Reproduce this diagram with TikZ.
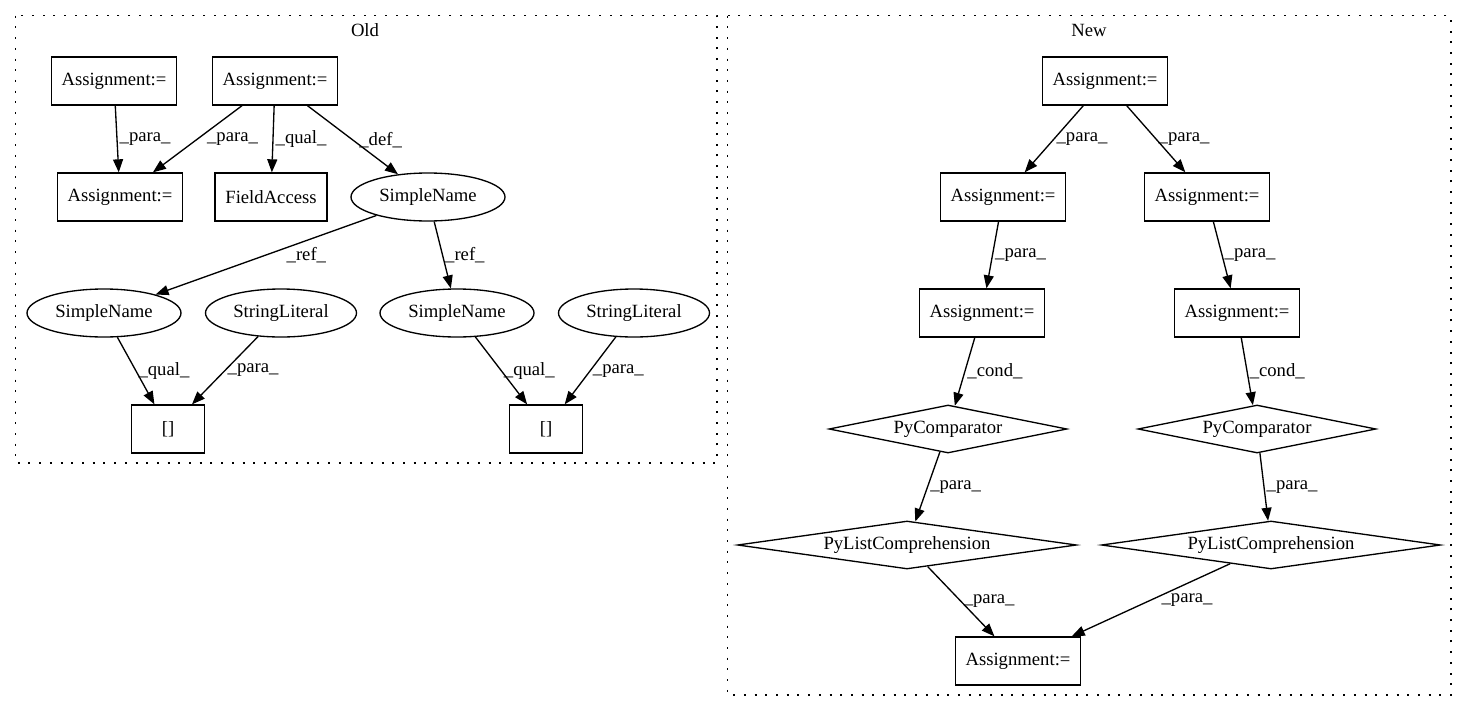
\documentclass[tikz,border=0pt]{standalone}
\usepackage{fontspec}
\setmainfont{Liberation Serif}
\usetikzlibrary{arrows.meta,shapes}

\begin{document}
\begin{tikzpicture}[x=1pt,y=-1pt,>={Triangle[length=13pt,width=10pt]},
  line width=1.33pt,font=\fontsize{18.67}{22}\selectfont,
  box/.style={draw,shape=rectangle,inner sep=0pt,minimum width=125pt,minimum height=48pt},
  oval/.style={draw,shape=ellipse,inner sep=0pt,minimum width=154pt,minimum height=48pt},
  rhomb/.style={draw,shape=diamond,aspect=6,inner sep=0pt,minimum height=48pt},
  lbl/.style={right,inner sep=2pt},
  cluster/.style={line width=1.5pt,dash pattern=on 2pt off 8.7pt}]
\useasboundingbox (0,0) rectangle (1467,712);

% Old
\draw[cluster] (15.7,15.7) rectangle (717,463);
\node (oldTitle) at (365,30) {Old};
\node (assignA) [box] at (114,81) {Assignment:=};
\node (assignB) [box, node distance=161pt, right of=assignA] {Assignment:=};
\node (assignC) [box] at (120,197) {Assignment:=};
\node (fieldAccess) [box, minimum width=112pt, node distance=151pt, right of=assignC]
{FieldAccess};
\node (simpleName) [oval, node distance=157pt, right of=fieldAccess] {SimpleName};
\node (simpleNameL) [oval] at (104,313) {SimpleName};
\node (stringLitL) [oval, minimum width=151pt, node distance=177pt, right of=simpleNameL]
{StringLiteral};
\node (simpleNameR) [oval, node distance=176pt, right of=stringLitL] {SimpleName};
\node (stringLitR) [oval, minimum width=151pt, node distance=177pt, right of=simpleNameR]
{StringLiteral};
\node (bracketL) [box, minimum width=73pt] at (168,429) {[]};
\node (bracketR) [box, minimum width=73pt, node distance=378pt, right of=bracketL] {[]};

\draw[->] (assignA) -- node [lbl] {\_para\_} (assignC);
\draw[->] (assignB) -- node [lbl, xshift=7pt] {\_para\_} (assignC);
\draw[->] (assignB) -- node [lbl] {\_qual\_} (fieldAccess);
\draw[->] (assignB) -- node [lbl, xshift=4pt] {\_def\_} (simpleName);
\draw[->] (simpleName) -- node [lbl, xshift=18pt] {\_ref\_} (simpleNameL);
\draw[->] (simpleName) -- node [lbl] {\_ref\_} (simpleNameR);
\draw[->] (simpleNameL) -- node [lbl] {\_qual\_} (bracketL);
\draw[->] (stringLitL) -- node [lbl] {\_para\_} (bracketL);
\draw[->] (simpleNameR) -- node [lbl] {\_qual\_} (bracketR);
\draw[->] (stringLitR) -- node [lbl] {\_para\_} (bracketR);

% New
\draw[cluster] (727.7,15.7) rectangle (1451,695);
\node (newTitle) at (1089,30) {New};
\node (newAssign) [box] at (1105,81) {Assignment:=};
\node (assignLeft) [box] at (1003,197) {Assignment:=};
\node (assignRight) [box, node distance=204pt, right of=assignLeft] {Assignment:=};
\node (assignLeft2) [box] at (982,313) {Assignment:=};
\node (assignRight2) [box, node distance=255pt, right of=assignLeft2] {Assignment:=};
\node (comparatorL) [rhomb, minimum width=238pt] at (948,429) {PyComparator};
\node (comparatorR) [rhomb, minimum width=238pt, node distance=309pt, right of=comparatorL]
{PyComparator};
\node (listCompL) [rhomb, minimum width=339pt] at (907,545) {PyListComprehension};
\node (listCompR) [rhomb, minimum width=339pt, node distance=364pt, right of=listCompL]
{PyListComprehension};
\node (assignResult) [box] at (1018,661) {Assignment:=};

\draw[->] (newAssign) -- node [lbl] {\_para\_} (assignLeft);
\draw[->] (newAssign) -- node [lbl] {\_para\_} (assignRight);
\draw[->] (assignLeft) -- node [lbl] {\_para\_} (assignLeft2);
\draw[->] (assignRight) -- node [lbl] {\_para\_} (assignRight2);
\draw[->] (assignLeft2) -- node [lbl] {\_cond\_} (comparatorL);
\draw[->] (assignRight2) -- node [lbl] {\_cond\_} (comparatorR);
\draw[->] (comparatorL) -- node [lbl] {\_para\_} (listCompL);
\draw[->] (comparatorR) -- node [lbl] {\_para\_} (listCompR);
\draw[->] (listCompL) -- node [lbl] {\_para\_} (assignResult);
\draw[->] (listCompR) -- node [lbl, xshift=8pt] {\_para\_} (assignResult);
\end{tikzpicture}
\end{document}
